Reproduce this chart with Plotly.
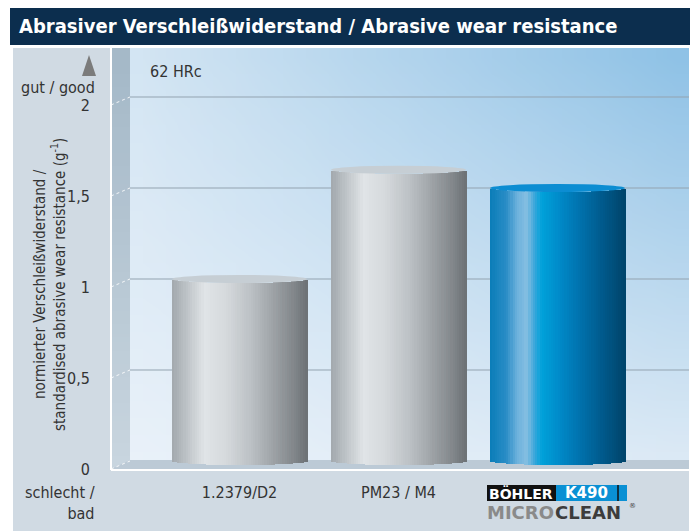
import zlib, struct, base64
import plotly.graph_objects as go

# ---------------- data ----------------
categories = ["1.2379/D2", "PM23 / M4", "BÖHLER K490 MICROCLEAN"]
values = [1.0, 1.6, 1.5]
y_ticks = [0, 0.5, 1, 1.5, 2]
y_tick_labels = ["0", "0,5", "1", "1,5", "2"]
x_tick_labels = ["1.2379/D2", "PM23 / M4"]

W, H = 697, 531
FONT = "DejaVu Sans Condensed, Liberation Sans Narrow, sans-serif"
TXT = "#333333"

def px(x):
    return x / W

def py(y):
    return 1 - y / H

def hex2rgb(h):
    h = h.lstrip("#")
    return tuple(int(h[i:i + 2], 16) for i in (0, 2, 4))

def lerp(a, b, t):
    return tuple(a[i] + (b[i] - a[i]) * t for i in range(3))

def grad(stops, t):
    for (t0, c0), (t1, c1) in zip(stops, stops[1:]):
        if t <= t1:
            u = 0 if t1 == t0 else (t - t0) / (t1 - t0)
            return lerp(hex2rgb(c0), hex2rgb(c1), u)
    return hex2rgb(stops[-1][1])

def rgb(c):
    return "rgb(%d,%d,%d)" % tuple(int(round(v)) for v in c)

def png_uri(w, h, fn):
    rows = []
    for j in range(h):
        row = bytearray(b"\x00")
        for i in range(w):
            c = fn(i / max(w - 1, 1), j / max(h - 1, 1))
            row += bytes(int(round(v)) for v in c)
        rows.append(bytes(row))
    raw = b"".join(rows)

    def chunk(t, d):
        return struct.pack(">I", len(d)) + t + d + struct.pack(">I", zlib.crc32(t + d) & 0xffffffff)
    png = (b"\x89PNG\r\n\x1a\n" + chunk(b"IHDR", struct.pack(">IIBBBBB", w, h, 8, 2, 0, 0, 0))
           + chunk(b"IDAT", zlib.compress(raw)) + chunk(b"IEND", b""))
    return "data:image/png;base64," + base64.b64encode(png).decode()

def bilinear(tl, tr, bl, br):
    tl, tr, bl, br = map(hex2rgb, (tl, tr, bl, br))
    def f(u, v):
        top = lerp(tl, tr, u)
        bot = lerp(bl, br, u)
        return lerp(top, bot, v)
    return f

# ---------------- geometry in pixels ----------------
X_LEFT, X_WALL, X_RIGHT = 111, 130, 689
Y_TOP, Y_FLOOR, Y_BOT = 48, 461, 469
Y0_PX, PX_PER_UNIT = 461, 182
X0_PX, PX_PER_CAT = 239.5, 159

y_range = [(Y0_PX - Y_BOT) / PX_PER_UNIT, (Y0_PX - Y_TOP) / PX_PER_UNIT]
x_range = [(X_LEFT - X0_PX) / PX_PER_CAT, (X_RIGHT - X0_PX) / PX_PER_CAT]
x_pos = list(range(len(categories)))

bar_w = 135 / PX_PER_CAT
d = 4 / PX_PER_UNIT  # ellipse half height in data units

grey_stops = [(0.0, "#a2a8ad"), (0.08, "#b6bcc0"), (0.24, "#e0e4e7"), (0.40, "#d5d9dc"),
              (0.58, "#bcc1c5"), (0.75, "#9da2a6"), (0.90, "#82878b"), (1.0, "#6c7175")]
blue_stops = [(0.0, "#0a7db8"), (0.12, "#2a8dc6"), (0.20, "#6cb1dc"), (0.27, "#86bfe2"),
              (0.33, "#3aa6da"), (0.38, "#00a2da"), (0.50, "#008ccb"), (0.65, "#0074b0"),
              (0.82, "#005b8e"), (1.0, "#00446a")]
bar_stops = [grey_stops, grey_stops, blue_stops]
top_colors = ["#c6ced4", "#c6ced4", "#0c8dd2"]

fig = go.Figure()

N = 60
step = bar_w / N
for i in range(N):
    t = (i + 0.5) / N
    s = (1 - (2 * t - 1) ** 2) ** 0.5
    fig.add_trace(go.Bar(
        x=x_pos, y=values, base=[-d * s] * len(values),
        width=step * 1.6, offset=-bar_w / 2 + i * step,
        marker=dict(color=[rgb(grad(st, t)) for st in bar_stops], line=dict(width=0)),
        hoverinfo="skip", showlegend=False,
    ))

shapes = []
# title bar
shapes.append(dict(type="rect", xref="paper", yref="paper", x0=px(10), x1=px(690), y0=py(45), y1=py(8),
                   fillcolor="#0c2e4e", line=dict(width=0), layer="below"))
# floor
shapes.append(dict(type="path", xref="paper", yref="paper",
                   path="M %f %f L %f %f L %f %f L %f %f Z" % (px(X_LEFT), py(Y_BOT), px(X_WALL), py(Y_FLOOR - 1),
                                                             px(X_RIGHT), py(Y_FLOOR - 1), px(X_RIGHT), py(Y_BOT)),
                   fillcolor="#bccad6", line=dict(width=0), layer="below"))
# gridlines on back wall + dotted lines on side wall
for v in y_ticks:
    if v > 0:
        shapes.append(dict(type="line", xref="paper", yref="y", x0=px(X_WALL), x1=px(X_RIGHT), y0=v, y1=v,
                           line=dict(color="#93a3b0", width=1), layer="below"))
    shapes.append(dict(type="line", xref="paper", yref="y", x0=px(X_LEFT), x1=px(X_WALL),
                       y0=v - 8 / PX_PER_UNIT, y1=v,
                       line=dict(color="rgba(255,255,255,0.85)", width=1, dash="dot"), layer="below"))
# white frame lines
shapes.append(dict(type="line", xref="paper", yref="paper", x0=px(X_LEFT), x1=px(X_LEFT), y0=py(Y_TOP), y1=py(Y_BOT + 1),
                   line=dict(color="white", width=2), layer="below"))
shapes.append(dict(type="line", xref="paper", yref="paper", x0=px(X_LEFT), x1=px(X_RIGHT), y0=py(Y_BOT + 1), y1=py(Y_BOT + 1),
                   line=dict(color="white", width=2), layer="below"))
# cylinder tops
for xi, v, c in zip(x_pos, values, top_colors):
    shapes.append(dict(type="circle", xref="x", yref="y", x0=xi - bar_w / 2, x1=xi + bar_w / 2,
                       y0=v - d, y1=v + d, fillcolor=c, line=dict(width=0), layer="above"))
# up arrow triangle
shapes.append(dict(type="path", xref="paper", yref="paper",
                   path="M %f %f L %f %f L %f %f Z" % (px(82), py(76), px(96), py(76), px(89), py(55)),
                   fillcolor="#7b7b7b", line=dict(width=0)))
# logo boxes
shapes.append(dict(type="rect", xref="paper", yref="paper", x0=px(487), x1=px(556), y0=py(501), y1=py(485),
                   fillcolor="#111111", line=dict(width=0)))
shapes.append(dict(type="rect", xref="paper", yref="paper", x0=px(556), x1=px(627), y0=py(501), y1=py(485),
                   fillcolor="#0a90d4", line=dict(width=0)))
shapes.append(dict(type="line", xref="paper", yref="paper", x0=px(618), x1=px(618), y0=py(501), y1=py(485),
                   line=dict(color="#111111", width=1.5)))

images = [
    dict(source=png_uri(2, 2, bilinear("#d0dae3", "#d0dae3", "#d0dae3", "#d0dae3")),
         xref="paper", yref="paper", x=px(13), y=py(48), sizex=px(689) - px(13), sizey=(531 - 48) / H,
         sizing="stretch", xanchor="left", yanchor="top", layer="below"),
    dict(source=png_uri(24, 24, bilinear("#d3e5f3", "#8fc2e6", "#e9f1f9", "#dbe9f5")),
         xref="paper", yref="paper", x=px(X_WALL), y=py(Y_TOP), sizex=(X_RIGHT - X_WALL) / W,
         sizey=(Y_FLOOR - Y_TOP) / H, sizing="stretch", xanchor="left", yanchor="top", layer="below"),
    dict(source=png_uri(2, 16, bilinear("#a5b9c8", "#a5b9c8", "#c8d5df", "#c8d5df")),
         xref="paper", yref="paper", x=px(X_LEFT), y=py(Y_TOP), sizex=(X_WALL - X_LEFT) / W,
         sizey=(Y_BOT - Y_TOP) / H, sizing="stretch", xanchor="left", yanchor="top", layer="below"),
]

annotations = [
    dict(text="<b>Abrasiver Verschleißwiderstand / Abrasive wear resistance</b>", xref="paper", yref="paper",
         x=px(17), y=py(26), xanchor="left", yanchor="middle", showarrow=False,
         font=dict(family=FONT, size=20, color="white")),
    dict(text="62 HRc", xref="paper", yref="paper", x=px(148), y=py(72), xanchor="left", yanchor="middle",
         showarrow=False, font=dict(family=FONT, size=16, color=TXT)),
    dict(text="gut / good", xref="paper", yref="paper", x=px(97), y=py(88), xanchor="right", yanchor="middle",
         showarrow=False, font=dict(family=FONT, size=16, color=TXT)),
    dict(text="schlecht /<br>bad", xref="paper", yref="paper", x=px(97), y=py(503), xanchor="right",
         yanchor="middle", align="right", showarrow=False, font=dict(family=FONT, size=16, color=TXT)),
    dict(text="normierter Verschleißwiderstand /<br>standardised abrasive wear resistance (g<sup>-1</sup>)",
         xref="paper", yref="paper", x=px(50), y=py(285), textangle=-90, xanchor="center", yanchor="middle",
         showarrow=False, font=dict(family=FONT, size=15, color=TXT)),
    dict(text="<b>BÖHLER</b>", xref="paper", yref="paper", x=px(521), y=py(493), xanchor="center",
         yanchor="middle", showarrow=False, font=dict(family="DejaVu Sans, sans-serif", size=14, color="white")),
    dict(text="<b>K490</b>", xref="paper", yref="paper", x=px(586), y=py(493), xanchor="center",
         yanchor="middle", showarrow=False, font=dict(family="DejaVu Sans, sans-serif", size=15, color="white")),
    dict(text="<b>MICRO</b>", xref="paper", yref="paper", x=px(485), y=py(512), xanchor="left",
         yanchor="middle", showarrow=False, font=dict(family="DejaVu Sans, sans-serif", size=18, color="#8a8a8a")),
    dict(text="<b>CLEAN</b>", xref="paper", yref="paper", x=px(553), y=py(512), xanchor="left",
         yanchor="middle", showarrow=False, font=dict(family="DejaVu Sans, sans-serif", size=18, color="#3c3c3c")),
    dict(text="®", xref="paper", yref="paper", x=px(627), y=py(506), xanchor="left",
         yanchor="middle", showarrow=False, font=dict(family="DejaVu Sans, sans-serif", size=7, color="#3c3c3c")),
]

fig.update_layout(
    width=W, height=H, margin=dict(l=0, r=0, t=0, b=0, autoexpand=False),
    paper_bgcolor="white", plot_bgcolor="rgba(0,0,0,0)",
    barmode="overlay", bargap=0, showlegend=False,
    xaxis=dict(domain=[px(X_LEFT), px(X_RIGHT)], range=x_range, tickvals=x_pos[:len(x_tick_labels)],
               ticktext=x_tick_labels, automargin=False,
               showgrid=False, zeroline=False, showline=False, ticks="", ticklabelstandoff=12,
               tickfont=dict(family=FONT, size=16, color=TXT), fixedrange=True),
    yaxis=dict(domain=[py(Y_BOT), py(Y_TOP)], range=y_range, tickvals=y_ticks, ticktext=y_tick_labels,
               showgrid=False, zeroline=False, showline=False, ticks="", ticklabelstandoff=20,
               automargin=False,
               ticklabelshift=8, tickfont=dict(family=FONT, size=16, color=TXT), fixedrange=True),
    shapes=shapes, images=images, annotations=annotations,
)

fig.write_html("out.html", config={"displayModeBar": False},
               post_script="document.body.style.margin='0px';document.body.style.overflow='hidden';")
